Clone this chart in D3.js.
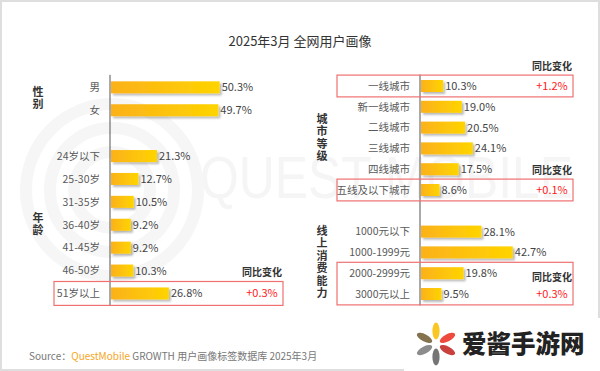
<!DOCTYPE html>
<html>
<head>
<meta charset="utf-8">
<script src="https://cdn.jsdelivr.net/npm/d3@7"></script>
<style>
  body { margin: 0; background: #fff; }
  svg text { font-family: "Noto Sans CJK SC", "Noto Sans", sans-serif; }
</style>
</head>
<body>
<div id="chart"></div>
<script>
// data
const genderCats = ['男', '女'];
const genderVals = [50.3, 49.7];
const ageCats = ['24岁以下', '25-30岁', '31-35岁', '36-40岁', '41-45岁', '46-50岁', '51岁以上'];
const ageVals = [21.3, 12.7, 10.5, 9.2, 9.2, 10.3, 26.8];
const cityCats = ['一线城市', '新一线城市', '二线城市', '三线城市', '四线城市', '五线及以下城市'];
const cityVals = [10.3, 19.0, 20.5, 24.1, 17.5, 8.6];
const spendCats = ['1000元以下', '1000-1999元', '2000-2999元', '3000元以上'];
const spendVals = [28.1, 42.7, 19.8, 9.5];
const groupNames = ['性别', '年龄', '城市等级', '线上消费能力'];
// boxed rows with year-on-year change
const boxFirst = ['51岁以上', '一线城市', '五线及以下城市', '2000-2999元'];
const boxLast = ['51岁以上', '一线城市', '五线及以下城市', '3000元以上'];
const boxChange = ['+0.3%', '+1.2%', '+0.1%', '+0.3%'];

const W = 600, H = 371;
const svg = d3.select('#chart').append('svg').attr('width', W).attr('height', H);

const defs = svg.append('defs');
const grad = defs.append('linearGradient').attr('id', 'barGrad');
grad.append('stop').attr('offset', '0%').attr('stop-color', '#fbb11a');
grad.append('stop').attr('offset', '100%').attr('stop-color', '#ffd400');
const shadow = defs.append('filter').attr('id', 'shadow')
  .attr('x', '-10%').attr('y', '-30%').attr('width', '130%').attr('height', '180%');
shadow.append('feDropShadow').attr('dx', 2).attr('dy', 2).attr('stdDeviation', 1.2)
  .attr('flood-color', '#000').attr('flood-opacity', 0.28);

// frame
svg.append('rect').attr('x', 1).attr('y', 1).attr('width', W - 2).attr('height', H - 2)
  .attr('fill', '#fff').attr('stroke', '#dedede').attr('stroke-width', 2);

// faint watermark
const wm = svg.append('g').attr('fill', 'none').attr('stroke', '#f6f6f6');
[38, 62, 86].forEach(r => {
  wm.append('circle').attr('cx', 112).attr('cy', 190).attr('r', r).attr('stroke-width', 12);
});
svg.append('text').attr('x', 200).attr('y', 198).text('QUEST MOBILE')
  .attr('font-size', 60).attr('fill', '#f5f5f5')
  .attr('textLength', 373).attr('lengthAdjust', 'spacingAndGlyphs')
  .style('font-family', '"Liberation Sans", sans-serif');

// title
svg.append('text').attr('x', 300).attr('y', 46).attr('text-anchor', 'middle')
  .attr('font-size', 13).attr('fill', '#333').text('2025年3月 全网用户画像');

function panel(opts) {
  const domain = opts.groups[0].cats.concat(['gap'], opts.groups[1].cats);
  const values = opts.groups[0].vals.concat([0], opts.groups[1].vals);
  const y = d3.scaleBand().domain(domain).range(opts.yRange);
  const x = d3.scaleLinear().domain([0, 100]).range([opts.x0 + 1, opts.x0 + 1 + opts.pxPer100]);
  const cy = d => y(d) + y.bandwidth() / 2;
  const rows = domain.map((c, i) => ({ cat: c, val: values[i] })).filter(d => d.cat !== 'gap');
  const g = svg.append('g');

  g.selectAll('rect.bar').data(rows).enter().append('rect')
    .attr('class', 'bar')
    .attr('x', x(0)).attr('y', d => cy(d.cat) - 6)
    .attr('width', d => x(d.val) - x(0)).attr('height', 12)
    .attr('fill', 'url(#barGrad)').attr('filter', 'url(#shadow)');

  g.selectAll('text.val').data(rows).enter().append('text')
    .attr('class', 'val')
    .attr('x', d => x(d.val) + 2).attr('y', d => cy(d.cat)).attr('dy', '0.36em')
    .attr('font-size', 11).attr('fill', '#444')
    .text(d => d.val.toFixed(1) + '%');

  g.selectAll('text.cat').data(rows).enter().append('text')
    .attr('class', 'cat')
    .attr('x', opts.x0 - 10).attr('y', d => cy(d.cat)).attr('dy', '0.36em')
    .attr('text-anchor', 'end').attr('font-size', 10.5).attr('fill', '#595959')
    .text(d => d.cat);

  g.append('line').attr('x1', opts.x0).attr('x2', opts.x0)
    .attr('y1', opts.yRange[0] - 1).attr('y2', opts.yRange[1] + 1)
    .attr('stroke', '#555').attr('stroke-width', 1);

  // vertical group names
  opts.groups.forEach(grp => {
    const mid = (cy(grp.cats[0]) + cy(grp.cats[grp.cats.length - 1])) / 2;
    g.append('text').attr('x', opts.labelX).attr('y', mid)
      .attr('writing-mode', 'vertical-rl').attr('text-anchor', 'middle')
      .attr('letter-spacing', 1.5)
      .attr('font-size', 11).attr('font-weight', 'bold').attr('fill', '#333').text(grp.name);
  });

  // boxes
  boxFirst.forEach((first, bi) => {
    if (!domain.includes(first)) return;
    const last = boxLast[bi];
    const top = y(first) - 0.5, bottom = y(last) + y.bandwidth() + 0.5;
    g.append('rect').attr('x', opts.boxX[0]).attr('y', top)
      .attr('width', opts.boxX[1] - opts.boxX[0]).attr('height', bottom - top)
      .attr('fill', 'none').attr('stroke', '#f07070').attr('stroke-width', 1.2);
    const tx = opts.boxX[1] - 21;
    const multi = first !== last;
    const headY = multi ? (top + bottom) / 2 - 6 : top - 9;
    const valY = multi ? (top + bottom) / 2 + 10 : (top + bottom) / 2;
    g.append('text').attr('x', tx).attr('y', headY).attr('dy', '0.36em').attr('text-anchor', 'middle')
      .attr('font-size', 10).attr('font-weight', 'bold').attr('fill', '#333').text('同比变化');
    g.append('text').attr('x', tx).attr('y', valY).attr('dy', '0.36em').attr('text-anchor', 'middle')
      .attr('font-size', 11).attr('fill', '#ff1a1a').text(boxChange[bi]);
  });
}

panel({
  groups: [{ name: groupNames[0], cats: genderCats, vals: genderVals },
           { name: groupNames[1], cats: ageCats, vals: ageVals }],
  yRange: [75.9, 304.9], x0: 110, pxPer100: 216, labelX: 38, boxX: [54, 283]
});
panel({
  groups: [{ name: groupNames[2], cats: cityCats, vals: cityVals },
           { name: groupNames[3], cats: spendCats, vals: spendVals }],
  yRange: [75.6, 304.4], x0: 420, pxPer100: 215, labelX: 322, boxX: [337, 573]
});

// source line
const src = svg.append('text').attr('x', 29).attr('y', 360).attr('font-size', 10).attr('fill', '#777');
src.append('tspan').text('Source：');
src.append('tspan').attr('fill', '#f5a623').text('QuestMobile');
src.append('tspan').text(' GROWTH 用户画像标签数据库 2025年3月');

// logo
const logo = svg.append('g');
logo.append('rect').attr('x', 404).attr('y', 318).attr('width', 196).attr('height', 53).attr('fill', '#fff');
const petalAngles = [-90, -28, 28, 90, 152, 208];
const petalColors = ['#f8c723', '#ee4a3d', '#c9403d', '#757575', '#8c8c8c', '#85734f'];
const fc = [436, 344];
petalAngles.forEach((a, i) => {
  logo.append('ellipse').attr('cx', 0).attr('cy', 0).attr('rx', 8.5).attr('ry', 3.6)
    .attr('fill', petalColors[i])
    .attr('transform', `translate(${fc[0]},${fc[1]}) rotate(${a}) translate(13,0)`);
});
logo.append('text').attr('x', 462).attr('y', 353).attr('font-size', 24.5).attr('font-weight', 900)
  .attr('fill', '#222').text('爱酱手游网');
</script>
</body>
</html>
